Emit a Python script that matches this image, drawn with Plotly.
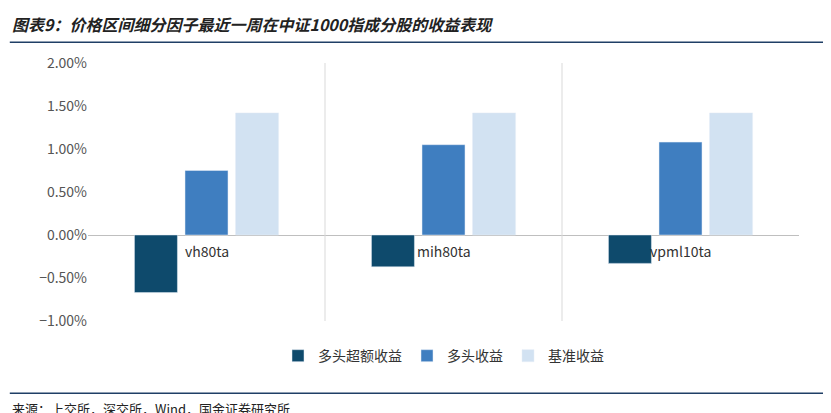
import plotly.graph_objects as go

categories = ["vh80ta", "mih80ta", "vpml10ta"]
excess = [-0.67, -0.37, -0.33]
long_ret = [0.75, 1.05, 1.08]
bench = [1.42, 1.42, 1.42]

fig = go.Figure()
fig.add_bar(x=categories, y=excess, name="多头超额收益", marker_color="#0E4A6C")
fig.add_bar(x=categories, y=long_ret, name="多头收益", marker_color="#3F7EC0")
fig.add_bar(x=categories, y=bench, name="基准收益", marker_color="#D2E2F2")

for c in categories:
    fig.add_annotation(x=c, y=0, text=c, showarrow=False, yshift=-16,
                       font=dict(size=14, color="#333"))

for xv in [0.5, 1.5]:
    fig.add_shape(type="line", x0=xv, x1=xv, y0=-1.0, y1=2.0, xref="x", yref="y",
                  line=dict(color="#D9D9D9", width=1))

# title / footer lines
fig.add_shape(type="line", xref="paper", yref="paper", x0=-0.11, x1=1.06, y0=1.08, y1=1.08,
              line=dict(color="#1F3F66", width=1.5))
fig.add_shape(type="line", xref="paper", yref="paper", x0=-0.11, x1=1.06, y0=-0.28, y1=-0.28,
              line=dict(color="#1F3F66", width=1.5))
fig.add_annotation(xref="paper", yref="paper", x=-0.11, y=1.095, xanchor="left", yanchor="bottom",
                   text="<b><i>图表9：价格区间细分因子最近一周在中证1000指成分股的收益表现</i></b>",
                   showarrow=False, font=dict(size=16, color="#222"))
fig.add_annotation(xref="paper", yref="paper", x=-0.11, y=-0.295, xanchor="left", yanchor="top",
                   text="来源：上交所，深交所，Wind，国金证券研究所",
                   showarrow=False, font=dict(size=13, color="#222"))

fig.update_layout(
    width=831, height=413,
    margin=dict(l=80, r=40, t=55, b=100),
    plot_bgcolor="white", paper_bgcolor="white",
    font=dict(family="Noto Sans CJK SC, Liberation Sans", color="#555"),
    barmode="group", bargap=0.36, bargroupgap=0.15,
    showlegend=True,
    legend=dict(orientation="h", x=0.5, xanchor="center", y=-0.136, yanchor="middle",
                font=dict(size=14, color="#333")),
    xaxis=dict(showticklabels=False, showline=False, showgrid=False, zeroline=False),
    yaxis=dict(range=[-1.0, 2.0], dtick=0.5, tickformat=".2f", ticksuffix="%",
               showgrid=False, zeroline=True, zerolinecolor="#BFBFBF", zerolinewidth=1,
               tickfont=dict(size=14, color="#555")),
)
fig.write_html("out.html")
